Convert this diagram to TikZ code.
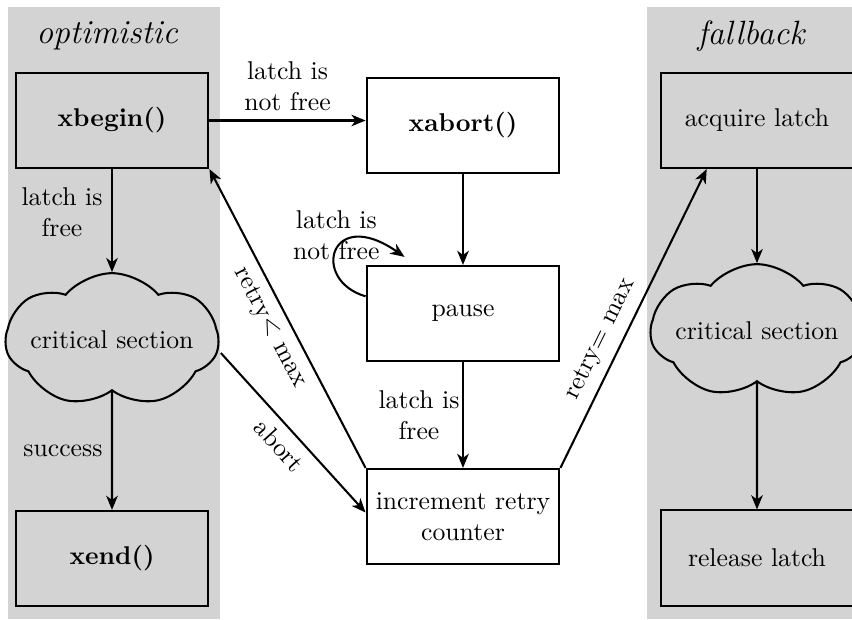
\documentclass[tikz,border=0pt]{standalone}
\usetikzlibrary{arrows.meta,shapes.symbols,calc}
\definecolor{bggray}{RGB}{211,211,211}
\begin{document}
\begin{tikzpicture}[x=0.389pt,y=-0.389pt,
  box/.style={draw, thick, minimum width=75pt, minimum height=37pt, align=center, inner sep=2pt},
  gbox/.style={box, fill=bggray},
  cs/.style={cloud, draw, thick, fill=bggray, cloud puffs=7, cloud puff arc=100, cloud ignores aspect, minimum width=69pt, minimum height=52pt, inner sep=0pt},
  arr/.style={thick, -{Stealth[length=5.5pt,width=4.5pt,inset=1.6pt]}},
  lbl/.style={align=center},
  ttl/.style={font=\fontsize{13.1}{15}\selectfont\itshape}]
\useasboundingbox (0,0) rectangle (852,619);
\fill[bggray] (8,7) rectangle (220,619);
\fill[bggray] (647,7) rectangle (852,619);
\node[ttl] (t1) at (107,36) {optimistic};
\node[ttl] (t2) at (751,36) {fallback};

\node[gbox] (xbegin) at (112,120.5) {\textbf{xbegin()}};
\node[box] (xabort) at (463,125.5) {\textbf{xabort()}};
\node[box] (pause) at (463,313.5) {pause};
\node[box] (incr) at (463,516.5) {increment retry\\counter};
\node[gbox] (xend) at (112,558.5) {\textbf{xend()}};
\node[gbox] (acq) at (757,120.5) {acquire latch};
\node[gbox] (rel) at (757,558) {release latch};
\node[cs] (lcs) at (112,340) {critical section};
\node[cs] (rcs) at (757,331) {critical section};

\draw[arr] (xbegin.east) -- node[above, lbl] {latch is\\not free} (xbegin.east -| xabort.west);
\draw[arr] (xbegin.south) -- node[left, lbl, pos=0.42] {latch is\\free} (lcs.north);
\draw[arr] (lcs.south) -- node[left] {success} (xend.north);
\draw[arr] (xabort.south) -- (pause.north);
\draw[arr] (pause.170) .. controls (310,280) and (330,205) .. node[lbl, pos=0.5, yshift=6pt] {latch is\\not free} ($(pause.north west)+(39,-8)$);
\draw[arr] (pause.south) -- node[left, lbl, inner sep=1pt] {latch is\\free} (incr.north);
\draw[arr] ($(lcs.east)+(1,13)$) -- node[sloped, below] {abort} ($(incr.west)+(0,-4)$);
\draw[arr] (incr.north west) -- node[sloped, below] {retry$<$ max} (xbegin.south east);
\draw[arr] (incr.north east) -- node[sloped, above, pos=0.4] {retry$=$ max} (acq.-136);
\draw[arr] (acq.south) -- (rcs.north);
\draw[arr] (rcs.south) -- (rel.north);
\end{tikzpicture}
\end{document}
